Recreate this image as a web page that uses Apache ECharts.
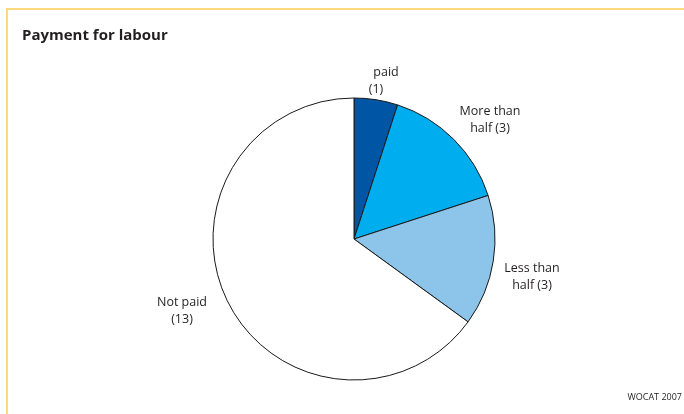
<!DOCTYPE html>
<html>
<head>
<meta charset="utf-8">
<script src="https://cdn.jsdelivr.net/npm/echarts@6/dist/echarts.min.js"></script>
<style>
  html, body { margin: 0; padding: 0; background: #fff; }
  #chart { width: 684px; height: 414px; }
</style>
</head>
<body>
<div id="chart"></div>
<script>
// Payment for labour: number of cases per payment category
var categories = ['paid', 'More than\nhalf', 'Less than\nhalf', 'Not paid'];
var counts = [1, 3, 3, 13];
var sliceColors = ['#0055a5', '#00aeef', '#8dc4ea', '#ffffff'];

// Where each category label sits (text centre)
var labelAnchors = [[381, 81], [490, 120], [532, 277], [182, 311]];

var chart = echarts.init(document.getElementById('chart'), null, { renderer: 'canvas' });

var fontFamily = '"Open Sans", "Noto Sans", sans-serif';
var labelSize = 12.5;

function labelText(i) {
  if (i === 0) {
    return '{p|' + categories[0] + '}\n{q|(' + counts[0] + ')}';
  }
  if (i === 3) {
    return categories[3] + '\n(' + counts[3] + ')';
  }
  return categories[i] + ' (' + counts[i] + ')';
}

chart.setOption({
  backgroundColor: '#ffffff',
  animation: false,
  title: {
    text: 'Payment for labour',
    left: 22,
    top: 28,
    padding: 0,
    textStyle: { fontFamily: fontFamily, fontSize: 15, fontWeight: 'bold', color: '#231f20' }
  },
  graphic: [
    { type: 'line', shape: { x1: 7, y1: 9, x2: 684, y2: 9 }, style: { stroke: '#fcd97c', lineWidth: 2 } },
    { type: 'line', shape: { x1: 7, y1: 8, x2: 7, y2: 414 }, style: { stroke: '#fcd97c', lineWidth: 2 } },
    {
      type: 'text', right: 2, top: 393,
      style: { text: 'WOCAT 2007', font: '9px ' + fontFamily, fill: '#231f20' }
    }
  ],
  series: [{
    type: 'pie',
    center: [354, 239],
    radius: 141,
    startAngle: 90,
    clockwise: true,
    avoidLabelOverlap: false,
    itemStyle: { borderColor: '#1a1a1a', borderWidth: 1 },
    labelLine: { show: false },
    label: {
      show: true,
      position: 'outside',
      fontFamily: fontFamily,
      fontSize: labelSize,
      lineHeight: 17,
      color: '#231f20',
      align: 'center',
      formatter: function (p) { return labelText(p.dataIndex); },
      rich: {
        p: { fontFamily: fontFamily, fontSize: labelSize, lineHeight: 17, color: '#231f20', padding: [0, 0, 0, 10] },
        q: { fontFamily: fontFamily, fontSize: labelSize, lineHeight: 17, color: '#231f20', padding: [0, 10, 0, 0] }
      }
    },
    labelLayout: function (p) {
      var a = labelAnchors[p.dataIndex];
      return { x: a[0], y: a[1], align: 'center', verticalAlign: 'middle' };
    },
    data: categories.map(function (c, i) {
      return { name: c, value: counts[i], itemStyle: { color: sliceColors[i] } };
    })
  }]
});
</script>
</body>
</html>
